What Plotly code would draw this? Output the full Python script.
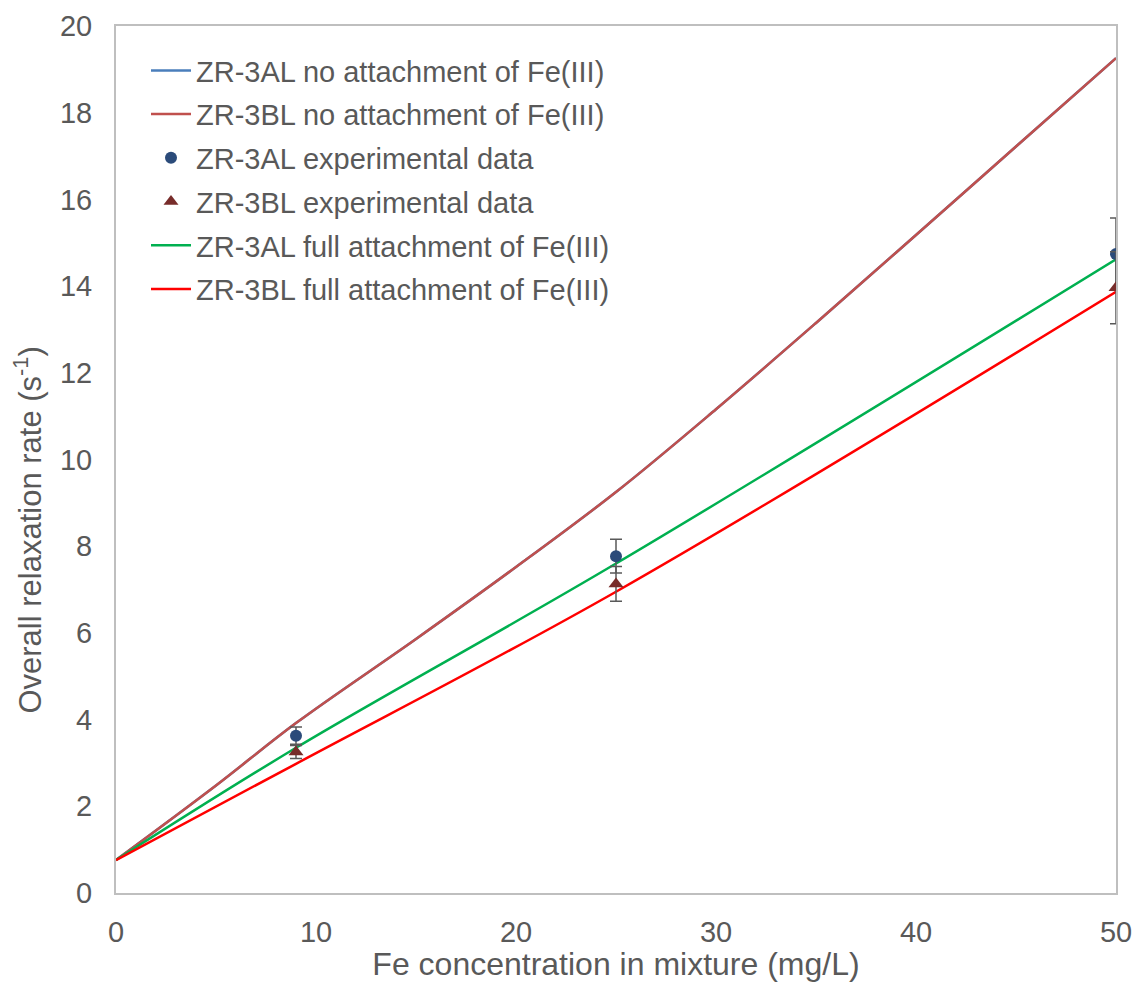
import plotly.graph_objects as go

# Model curves: relaxation rate vs Fe concentration
x_model = [0, 5, 9, 15, 20, 25, 30, 35, 40, 45, 50]
no_attach_3al = [0.76, 2.48, 3.92, 5.86, 7.52, 9.25, 11.16, 13.15, 15.18, 17.22, 19.26]
no_attach_3bl = [0.76, 2.48, 3.92, 5.86, 7.52, 9.25, 11.16, 13.15, 15.18, 17.22, 19.26]

x_full = [0, 9, 25, 50]
full_attach_3al = [0.76, 3.35, 7.60, 14.62]
full_attach_3bl = [0.76, 2.98, 6.95, 13.87]

# Experimental measurements with standard deviations
x_exp = [9, 25, 50]
exp_3al = [3.63, 7.77, 14.74]
err_3al = [0.20, 0.39, 0.83]
exp_3bl = [3.25, 7.13, 13.96]
err_3bl = [0.15, 0.40, 0.83]

font_family = "Liberation Sans, Arial, sans-serif"
text_color = "#595959"
axis_color = "#bfbfbf"

fig = go.Figure()

fig.add_trace(go.Scatter(
    x=x_model, y=no_attach_3al, mode="lines", line=dict(color="#4a7ebb", width=2.5, shape="spline"),
    name="ZR-3AL no attachment of Fe(III)", legendgroup="a", legendrank=1))
fig.add_trace(go.Scatter(
    x=x_model, y=no_attach_3bl, mode="lines", line=dict(color="#c0504d", width=2.5, shape="spline"),
    name="ZR-3BL no attachment of Fe(III)", legendgroup="b", legendrank=2))
fig.add_trace(go.Scatter(
    x=x_full, y=full_attach_3al, mode="lines", line=dict(color="#00b050", width=2.5, shape="spline"),
    name="ZR-3AL full attachment of Fe(III)", legendgroup="e", legendrank=5))
fig.add_trace(go.Scatter(
    x=x_full, y=full_attach_3bl, mode="lines", line=dict(color="#ff0000", width=2.5, shape="spline"),
    name="ZR-3BL full attachment of Fe(III)", legendgroup="f", legendrank=6))
fig.add_trace(go.Scatter(
    x=x_exp, y=exp_3al, mode="markers",
    marker=dict(symbol="circle", size=12, color="#2b4b7a"),
    error_y=dict(type="data", array=err_3al, color="#595959", thickness=1.5, width=6),
    name="ZR-3AL experimental data", legendgroup="c", legendrank=3))
fig.add_trace(go.Scatter(
    x=x_exp, y=exp_3bl, mode="markers",
    marker=dict(symbol="triangle-up", size=13, color="#772c2a"),
    error_y=dict(type="data", array=err_3bl, color="#595959", thickness=1.5, width=6),
    name="ZR-3BL experimental data", legendgroup="d", legendrank=4))

axis_common = dict(
    showline=True, linecolor=axis_color, linewidth=2, mirror=True,
    showgrid=False, zeroline=False, ticks="", automargin=False,
    tickfont=dict(size=29, color=text_color, family=font_family),
)

fig.update_layout(
    width=1135, height=982,
    margin=dict(l=116, r=19, t=26, b=89),
    paper_bgcolor="white", plot_bgcolor="white",
    font=dict(family=font_family, color=text_color),
    showlegend=True,
    legend=dict(
        x=0.03, y=0.978, xanchor="left", yanchor="top",
        font=dict(size=29, color=text_color, family=font_family),
        bgcolor="rgba(0,0,0,0)", tracegroupgap=3, itemwidth=40,
    ),
    xaxis=dict(range=[0, 50], dtick=10, tick0=0, ticklabelstandoff=12,
               title=dict(text="Fe concentration in mixture (mg/L)",
                          font=dict(size=32, color=text_color, family=font_family), standoff=3),
               **axis_common),
    yaxis=dict(range=[0, 20], dtick=2, tick0=0, ticklabelstandoff=16,
               **axis_common),
)

# Y-axis title placed slightly below the axis midpoint
fig.add_annotation(
    text="Overall relaxation rate (s<sup>-1</sup>)",
    xref="paper", yref="paper", x=-0.088, y=0.418,
    xanchor="center", yanchor="middle", textangle=-90, showarrow=False,
    font=dict(size=31, color=text_color, family=font_family),
)

fig.write_html("out.html")
